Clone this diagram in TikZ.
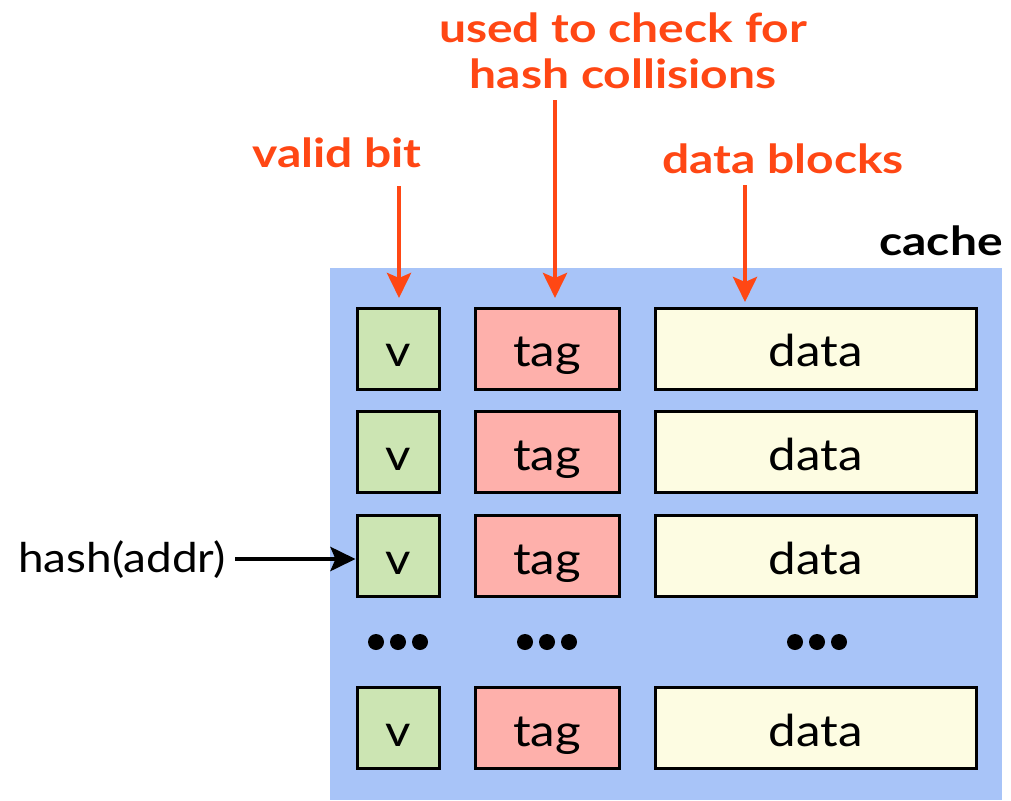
\documentclass[tikz,border=0pt]{standalone}
\usepackage{fontspec}
\setmainfont{Lato}
\newfontfamily\cellfont{Lato}[FakeStretch=1.12]
\newfontfamily\notefont{Lato}[FakeStretch=1.2]
\usetikzlibrary{arrows.meta}

\definecolor{cacheblue}{HTML}{A8C4F8}
\definecolor{validgreen}{HTML}{CCE5B3}
\definecolor{tagpink}{HTML}{FEB0AB}
\definecolor{datacream}{HTML}{FDFCE2}
\definecolor{notered}{HTML}{FF4714}

\tikzset{
  cell/.style={draw=black, line width=3pt, inner sep=0pt, minimum height=81pt,
    text height=40pt, text depth=4pt,
    font=\cellfont\fontsize{44}{52}\selectfont},
  vcell/.style={cell, fill=validgreen, minimum width=82pt},
  tagcell/.style={cell, fill=tagpink, minimum width=144pt},
  datacell/.style={cell, fill=datacream, minimum width=321pt},
  note/.style={text=notered, font=\notefont\bfseries\fontsize{40}{48}\selectfont, align=center, inner sep=0pt},
  notearrow/.style={draw=notered, line width=4.5pt,
    -{Stealth[length=25pt, width=24pt, inset=5pt]}},
  blackarrow/.style={draw=black, line width=4.5pt,
    -{Stealth[length=25pt, width=24pt, inset=5pt]}},
  dot/.style={fill=black, circle, inner sep=0pt, minimum size=16pt}
}

\begin{document}
\begin{tikzpicture}[x=1pt, y=-1pt]
  \useasboundingbox (0,0) rectangle (1011,800);

  % cache body
  \fill[cacheblue] (330,268) rectangle (1002,800);
  \node[anchor=base east, font=\notefont\bfseries\fontsize{40}{48}\selectfont, inner sep=0pt] (cachelbl) at (1003,255) {cache};

  % rows of the cache
  \foreach \r/\y in {1/348.5, 2/452, 3/556, 5/728} {
    \node[vcell]    (v\r)   at (398,\y)   {v};
    \node[tagcell]  (tag\r) at (547,\y)   {tag};
    \node[datacell] (data\r) at (815.5,\y) {data};
  }

  % ellipsis rows
  \foreach \c/\x in {v/398, t/547, d/817} {
    \node[dot] (\c dotA) at (\x-22,642) {};
    \node[dot] (\c dotB) at (\x,642) {};
    \node[dot] (\c dotC) at (\x+22,642) {};
  }

  % annotations
  \node[note, anchor=base] (validlbl) at (337,167) {valid bit};
  \node[note, anchor=base] (taglbl1) at (623,42) {used to check for};
  \node[note, anchor=base] (taglbl2) at (623,88) {hash collisions};
  \node[note, anchor=base] (datalbl) at (783,173) {data blocks};

  \coordinate (validtop) at (399,186);
  \coordinate (validtip) at (399,298);
  \coordinate (tagtop) at (555,100);
  \coordinate (tagtip) at (555,298);
  \coordinate (datatop) at (745,185);
  \coordinate (datatip) at (745,302);
  \draw[notearrow] (validtop) -- (validtip);
  \draw[notearrow] (tagtop) -- (tagtip);
  \draw[notearrow] (datatop) -- (datatip);

  % index into the cache
  \node[anchor=base west, font=\cellfont\fontsize{41}{48}\selectfont, inner sep=0pt] (hash) at (18,572) {hash(addr)};
  \draw[blackarrow] (hash.east |- 0,559) ++(9,0) coordinate (hashstart) -- (v3.west |- 0,559);
\end{tikzpicture}
\end{document}
